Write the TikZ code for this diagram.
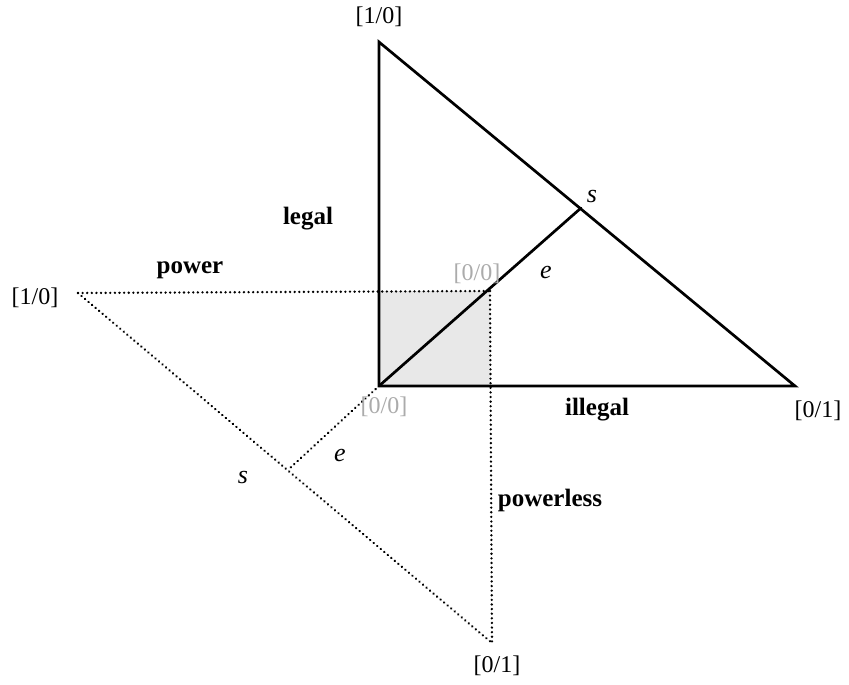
\documentclass[tikz,border=0pt]{standalone}
\usepackage{fontspec}
\setmainfont{Liberation Serif}
\begin{document}
\begin{tikzpicture}[x=1pt,y=-1pt,
  solidline/.style={line width=2.7pt,line cap=round,line join=miter},
  dotline/.style={line width=2.6pt,dash pattern=on 0.01pt off 4.6pt,line cap=round},
  lab/.style={font=\fontsize{24}{27}\selectfont,inner sep=0pt},
  boldlab/.style={font=\fontsize{25}{28}\selectfont\bfseries,inner sep=0pt},
  graylab/.style={font=\fontsize{24}{27}\selectfont,text=black!33,inner sep=0pt},
  itlab/.style={font=\fontsize{26}{29}\selectfont\itshape,inner sep=0pt}]
\useasboundingbox (0,0) rectangle (849,685);
% points
\coordinate (A) at (379,42);
\coordinate (B) at (379,386);
\coordinate (C) at (795,386);
\coordinate (P) at (490,291);
\coordinate (L) at (78,293);
\coordinate (D) at (492,643);
\coordinate (S) at (581,208);
\coordinate (T) at (289,469);
% shaded square
\fill[black!9] (B) rectangle (P);
% solid triangle
\draw[solidline] (A) -- (B) -- (C) -- cycle;
\draw[solidline] (B) -- (S);
% dotted triangle
\draw[dotline] (L) -- (P);
\draw[dotline] (P) -- (D);
\draw[dotline] (L) -- (D);
\draw[dotline] (B) -- (T);
% labels
\node[lab] (a1) at (379,17) {[1/0]};
\node[lab] (l1) at (35,298) {[1/0]};
\node[lab] (c1) at (818,411) {[0/1]};
\node[lab] (d1) at (497,666) {[0/1]};
\node[graylab] (p0) at (477,274) {[0/0]};
\node[graylab] (b0) at (384,407) {[0/0]};
\node[boldlab] (legal) at (308,219) {legal};
\node[boldlab] (power) at (190,270) {power};
\node[boldlab] (illegal) at (597,410) {illegal};
\node[boldlab] (powerless) at (550,500) {powerless};
\node[itlab] (s1) at (592,197) {s};
\node[itlab] (e1) at (546,272) {e};
\node[itlab] (s2) at (243,477) {s};
\node[itlab] (e2) at (340,455) {e};
\end{tikzpicture}
\end{document}
